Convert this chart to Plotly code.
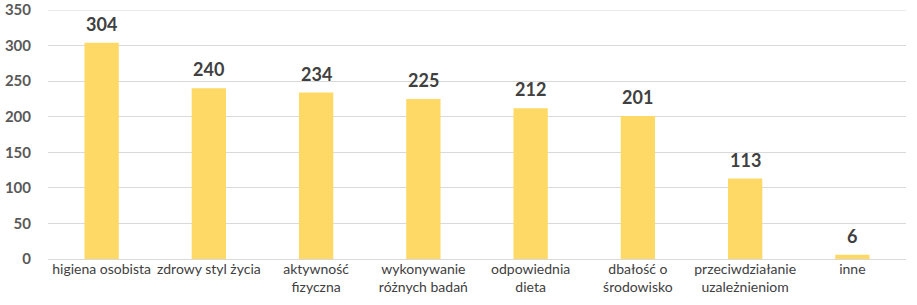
import plotly.graph_objects as go

categories = ["higiena osobista", "zdrowy styl życia", "aktywność<br>fizyczna",
              "wykonywanie<br>różnych badań", "odpowiednia<br>dieta", "dbałość o<br>środowisko",
              "przeciwdziałanie<br>uzależnieniom", "inne"]
values = [304, 240, 234, 225, 212, 201, 113, 6]
y_ticks = [0, 50, 100, 150, 200, 250, 300, 350]

fig = go.Figure(go.Bar(
    x=categories, y=values,
    marker=dict(color="#FFD966", line=dict(width=0)),
))
for c, v in zip(categories, values):
    fig.add_annotation(x=c, y=v, text=f"<b>{v}</b>", showarrow=False, yanchor="bottom",
                       yshift=6, font=dict(family="Lato, Open Sans, sans-serif", size=18, color="#404040"))
fig.add_shape(type="line", xref="paper", x0=0, x1=1, yref="y", y0=y_ticks[-1], y1=y_ticks[-1],
              line=dict(color="#D9D9D9", width=1), layer="below")
fig.update_layout(
    width=917, height=305, margin=dict(l=48, r=11, t=10, b=46),
    paper_bgcolor="white", plot_bgcolor="white", bargap=0.68, showlegend=False,
    font=dict(family="Lato, Open Sans, sans-serif", color="#404040"),
    xaxis=dict(tickfont=dict(size=14, color="#404040"), showgrid=False, showline=False, ticks="",
               automargin=False),
    yaxis=dict(range=[0, 350], tickvals=y_ticks, ticktext=[f"<b>{t}</b>" for t in y_ticks],
               tickfont=dict(size=15, color="#595959"), gridcolor="#D9D9D9", gridwidth=1,
               zeroline=True, zerolinecolor="#D9D9D9", zerolinewidth=1, ticklen=0, ticks="",
               ticklabelstandoff=16, automargin=False),
)
fig.write_html("out.html")
